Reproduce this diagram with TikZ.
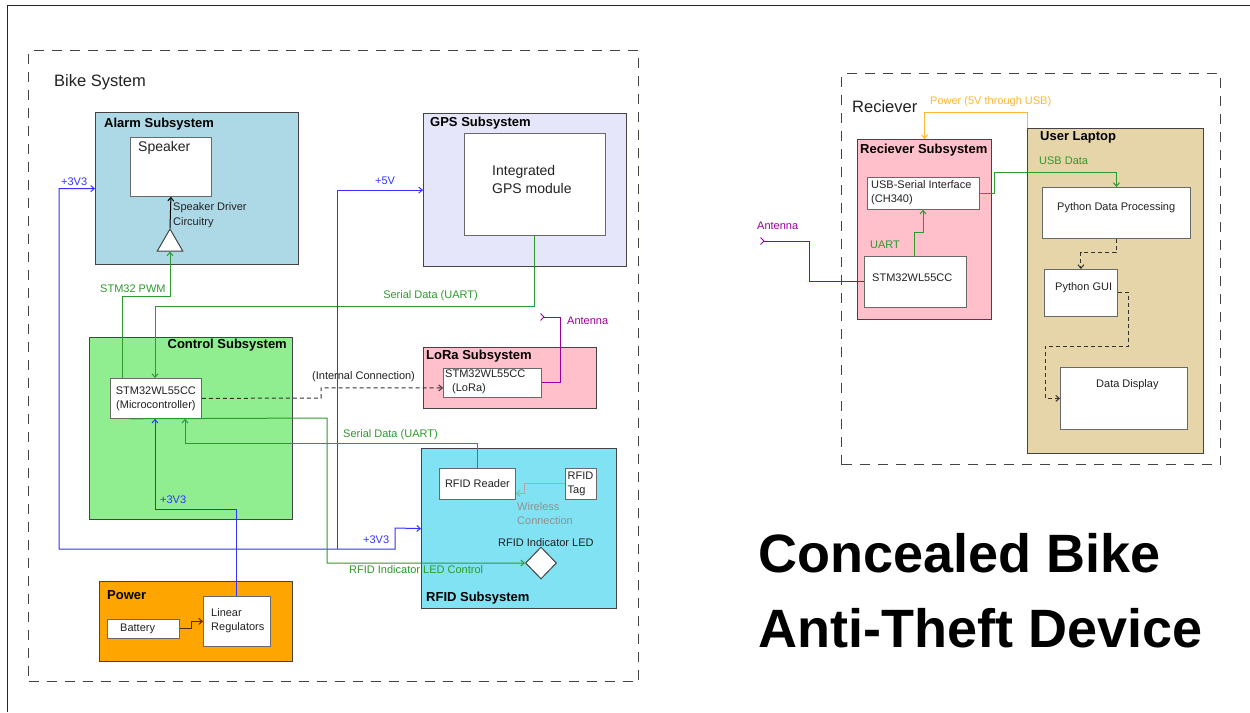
\documentclass[tikz,border=0pt]{standalone}
\usepackage{fontspec}
\setmainfont{Liberation Sans}
\usetikzlibrary{arrows.meta,calc,shapes.geometric}
\definecolor{alarmfill}{HTML}{ADD8E6}
\definecolor{gpsfill}{HTML}{E6E6FA}
\definecolor{ctrlfill}{HTML}{90EE90}
\definecolor{lorafill}{HTML}{FFC0CB}
\definecolor{rfidfill}{HTML}{80E2F2}
\definecolor{powerfill}{HTML}{FFA500}
\definecolor{laptopfill}{HTML}{E6D5A8}
\definecolor{wblue}{HTML}{3333FF}
\definecolor{wgreen}{HTML}{2E9A2E}
\definecolor{wpurple}{HTML}{990099}
\definecolor{worange}{HTML}{FFB833}
\definecolor{wgray}{HTML}{AAAAAA}
\definecolor{borderc}{HTML}{444444}
\definecolor{wbrown}{HTML}{4A3000}
\definecolor{txtc}{HTML}{222222}
\tikzset{
  groupbox/.style={draw=borderc, dash pattern=on 10pt off 8pt, line width=1.2pt, anchor=north west, inner sep=0},
  sub/.style={draw=borderc, line width=1.2pt, anchor=north west, inner sep=0},
  inbox/.style={draw=borderc!80, fill=white, line width=0.8pt, anchor=north west, inner sep=0},
  ttl/.style={font=\bfseries\fontsize{13}{16}\selectfont, anchor=west, inner sep=0, text=black},
  big/.style={font=\fontsize{14}{18}\selectfont, anchor=west, inner sep=0, align=left, text=txtc},
  sm/.style={font=\fontsize{11}{14}\selectfont, anchor=west, inner sep=0, align=left, text=txtc},
  tip/.tip={Straight Barb[length=3.5pt,width=6pt]},
  wire/.style={line width=1pt, -tip},
  bw/.style={wire, wblue},
  gw/.style={wire, wgreen},
  ow/.style={wire, worange},
  pw/.style={line width=1pt, wpurple},
  dw/.style={wire, black!80, dashed, dash pattern=on 4pt off 3pt},
}
\begin{document}
\begin{tikzpicture}[x=1pt,y=-1pt]
\useasboundingbox (0,0) rectangle (1250,712);
\fill[white] (0,0) rectangle (1250,712);
\draw[line width=1pt, black!85] (7,712) -- (7,5) -- (1250,5);

% ---------- Bike system ----------
\node[groupbox, minimum width=610, minimum height=631] (bike) at (28,50) {};
\node[big, font=\fontsize{16.5}{20}\selectfont] (biket) at (54,82) {Bike System};

\node[sub, fill=alarmfill, minimum width=203, minimum height=152] (alarm) at (95,112) {};
\node[ttl] (alarmt) at (104,124) {Alarm Subsystem};
\node[inbox, minimum width=81, minimum height=59] (speaker) at (130,137) {};
\node[big] (speakert) at (138,148) {Speaker};
\node[regular polygon, regular polygon sides=3, minimum size=29.4, inner sep=0, draw=borderc, line width=1pt, fill=white] (tri) at (170,243.7) {};
\node[sm, font=\fontsize{11}{15}\selectfont] (drvt) at (173,215.5) {Speaker Driver\\Circuitry};

\node[sub, fill=gpsfill, minimum width=203, minimum height=153] (gps) at (423,113) {};
\node[ttl] (gpst) at (430,123) {GPS Subsystem};
\node[inbox, minimum width=141, minimum height=102] (gpsmod) at (464,133) {};
\node[big] (gpsmodt) at (492,179) {Integrated\\GPS module};

\node[sub, fill=ctrlfill, minimum width=203, minimum height=182] (ctrl) at (89,337) {};
\node[ttl, anchor=east] (ctrlt) at (287,345) {Control Subsystem};
\node[inbox, minimum width=91, minimum height=40] (micro) at (110,378) {};
\node[sm, anchor=center, align=center] (microt) at (micro.center) {STM32WL55CC\\(Microcontroller)};

\node[sub, fill=lorafill, minimum width=173, minimum height=61] (lora) at (423,347) {};
\node[ttl] (lorat) at (426,356) {LoRa Subsystem};
\node[inbox, minimum width=98, minimum height=29] (loramod) at (443,368) {};
\node[sm] (loramodt) at (445,382) {STM32WL55CC\\\hspace*{7pt}(LoRa)};

\node[sub, fill=rfidfill, minimum width=195, minimum height=160] (rfid) at (421,448) {};
\node[ttl] (rfidt) at (426,598) {RFID Subsystem};
\node[inbox, minimum width=76, minimum height=31] (reader) at (439,468) {};
\node[sm, anchor=center] (readert) at (reader.center) {RFID Reader};
\node[inbox, minimum width=31, minimum height=31] (tag) at (565,468) {};
\node[sm] (tagt) at (567.5,483.5) {RFID\\Tag};
\node[diamond, draw=borderc, line width=1pt, fill=white, minimum width=31, minimum height=32, inner sep=0] (led) at (541,563) {};
\node[sm] (ledt) at (498,543) {RFID Indicator LED};

\node[sub, fill=powerfill, minimum width=193, minimum height=80] (power) at (99,581) {};
\node[ttl] (powert) at (107,595) {Power};
\node[inbox, minimum width=72, minimum height=19] (battery) at (107,619) {};
\node[sm] (batteryt) at (120,628.5) {Battery};
\node[inbox, minimum width=67, minimum height=50] (linreg) at (203,596) {};
\node[sm] (linregt) at (211,621) {Linear\\Regulators};

% bike connectors
\draw[wire, black] (tri.north) -- (speaker.south);
\draw[gw] ($(micro.north west)+(12,0)$) -- ++(0,-82) -| (tri.south);
\node[sm, text=wgreen] (pwmt) at (100,289) {STM32 PWM};
\draw[gw] (gpsmod.south) -- ++(0,71) -| ($(micro.north west)+(45,0)$);
\node[sm, text=wgreen, anchor=east] (uart1t) at (478,296) {Serial Data (UART)};
\coordinate (j5) at (337,549);
\draw[bw] (j5) |- (gps.west);
\node[sm, text=wblue] (v5t) at (375,181) {+5V};
\coordinate (b1) at (59,549);
\coordinate (b2) at (395,528);
\draw[bw, tip-tip] (alarm.west) -| (b1) -| (b2) -- (rfid.west);
\node[sm, text=wblue] (v33at) at (61,182) {+3V3};
\node[sm, text=wblue] (v33ct) at (363,540) {+3V3};
\draw[bw] (linreg.north) -- ++(0,-87) -| ($(micro.south west)+(45,0)$);
\node[sm, text=wblue] (v33bt) at (160,500) {+3V3};
\draw[dw] (micro.east) -- (321,398) |- ($(loramod.west)+(0,5)$);
\node[sm] (intt) at (312,377) {(Internal Connection)};
\coordinate (ant1) at (540,317);
\draw[pw, -{Straight Barb[reversed,length=3.5pt,width=7pt]}] (loramod.east) -| (560,317) -- (ant1);
\node[sm, text=wpurple] (ant1t) at (567,321) {Antenna};
\draw[gw] ($(micro.south west)+(20,0)$) -- (327,418) |- (led.west);
\node[sm, text=wgreen] (ledct) at (349,570) {RFID Indicator LED Control};
\draw[gw] (reader.north) -- ++(0,-25) -| ($(micro.south west)+(75,0)$);
\node[sm, text=wgreen] (uart2t) at (343,435) {Serial Data (UART)};
\draw[wire, wgray] (tag.west) -- ++(-41,0) |- ($(reader.east)+(0,9.5)$);
\node[sm, text=wgray!85!black, font=\fontsize{11}{14}\selectfont] (wlt) at (517,514) {Wireless\\Connection};
\draw[wire, wbrown] (battery.east) -- ++(12,0) |- (linreg.west);

% ---------- Receiver ----------
\node[groupbox, minimum width=379, minimum height=391] (recv) at (841,73) {};
\node[big, font=\fontsize{16.5}{20}\selectfont] (recvt) at (852,107) {Reciever};
\node[sub, fill=lorafill, minimum width=134, minimum height=180] (recvsub) at (857,139) {};
\node[ttl] (recvsubt) at (860,150) {Reciever Subsystem};
\node[inbox, minimum width=112, minimum height=32] (usbser) at (867,177) {};
\node[sm] (usbsert) at (871,193) {USB-Serial Interface\\(CH340)};
\node[inbox, minimum width=102, minimum height=51] (rstm) at (864,256) {};
\node[sm] (rstmt) at (872,278) {STM32WL55CC};

\node[sub, fill=laptopfill, minimum width=176, minimum height=325] (laptop) at (1027,128) {};
\node[ttl] (laptopt) at (1040,137) {User Laptop};
\node[inbox, minimum width=148, minimum height=51] (pdp) at (1042,187) {};
\node[sm] (pdpt) at (1057,208) {Python Data Processing};
\node[inbox, minimum width=73, minimum height=47] (gui) at (1044,269) {};
\node[sm] (guit) at (1055,288) {Python GUI};
\node[inbox, minimum width=127, minimum height=62] (display) at (1060,367) {};
\node[sm] (displayt) at (1096,385) {Data Display};

\draw[gw] ($(rstm.north west)+(50,0)$) -- ++(0,-24) -| ($(usbser.south west)+(56,0)$);
\node[sm, text=wgreen] (uart3t) at (870,245) {UART};
\coordinate (ant2) at (760,241);
\draw[pw, {Straight Barb[reversed,length=3.5pt,width=7pt]}-] (ant2) -- (809,241) |- (rstm.west);
\node[sm, text=wpurple] (ant2t) at (757,226) {Antenna};
\draw[gw] (usbser.east) -- ++(15,0) |- ($(pdp.north)+(0,-15)$) -- (pdp.north);
\node[sm, text=wgreen] (usbdt) at (1039,161) {USB Data};
\draw[ow] (laptop.north west) -- ++(0,-16) -| (recvsub.north);
\node[sm, text=worange] (pwrt) at (930,102) {Power (5V through USB)};
\draw[dw] (pdp.south) -- ++(0,14) -| (gui.north);
\draw[dw] (gui.east) -- ++(11,0) |- (1045,346) |- (display.west);

% ---------- Title ----------
\node[anchor=west, inner sep=0, align=left, font=\bfseries\fontsize{54}{75}\selectfont] (title) at (758,591) {Concealed Bike\\Anti-Theft Device};
\end{tikzpicture}
\end{document}
